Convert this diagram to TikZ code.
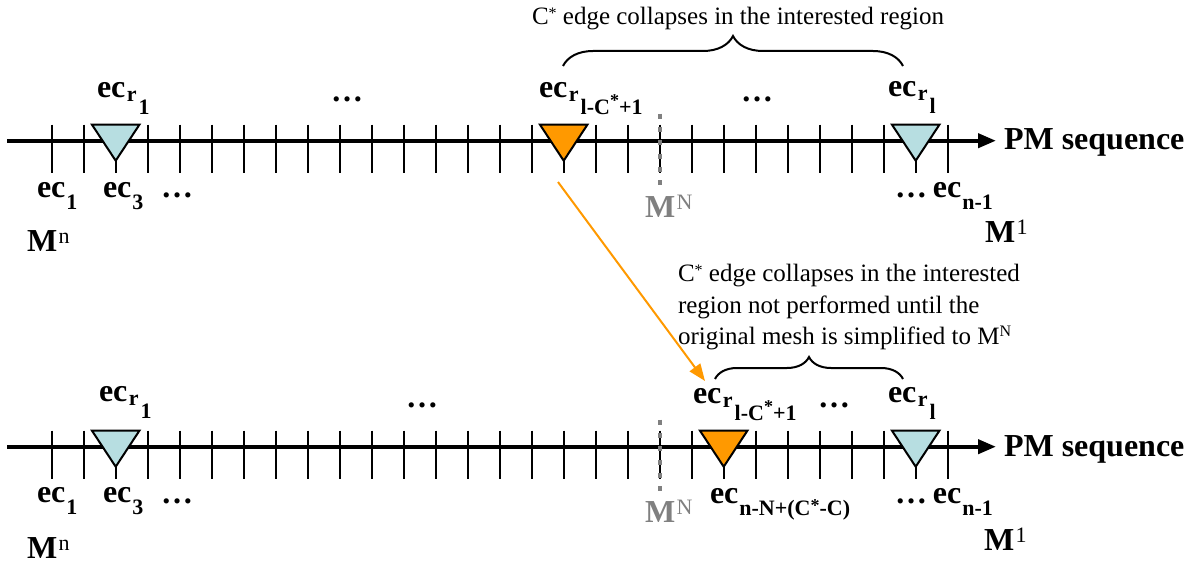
\documentclass[tikz,border=0pt]{standalone}
\usepackage{fontspec}
\setmainfont{Liberation Serif}
\usetikzlibrary{arrows.meta,decorations.pathreplacing}
\definecolor{triorange}{RGB}{255,153,0}
\definecolor{triblue}{RGB}{183,222,225}
\definecolor{mngray}{RGB}{128,128,128}
\newcommand\fbg{\fontsize{32bp}{32bp}\selectfont\bfseries}
\newcommand\fsb{\fontsize{22bp}{22bp}\selectfont\bfseries}
\newcommand\fss{\fontsize{18bp}{18bp}\selectfont\bfseries}
\newcommand\fsr{\fontsize{22bp}{22bp}\selectfont\mdseries}
\newcommand\fan{\fontsize{25bp}{25bp}\selectfont}
\newcommand\fas{\fontsize{16bp}{16bp}\selectfont}
\newcommand\ecrr[1]{{\fbg ec}\kern1.5bp\raisebox{-4bp}{\fsb r}\kern2bp\raisebox{-17bp}{\fsb #1}}
\newcommand\ecsub[1]{{\fbg ec}\kern1bp\raisebox{-12bp}{\fsb #1}}
\newcommand\Mup[1]{{\fbg M}\kern1.5bp\raisebox{8bp}{\fsr #1}}
\begin{document}
\begin{tikzpicture}[x=1bp,y=-1bp,
  every node/.style={inner sep=0pt,outer sep=0pt,anchor=base west},
  ticksty/.style={line width=2bp},
  mainline/.style={line width=4bp,-{Triangle[length=18bp,width=14bp]}},
  tristy/.style={line width=2bp,line join=miter},
  mnline/.style={mngray,line width=4bp,dash pattern=on 5bp off 8.3bp},
  bracesty/.style={decorate,decoration={brace,amplitude=#1},line width=2bp},
  orangearrow/.style={triorange,line width=2bp,-{Triangle[length=17bp,width=13bp]}}]
\useasboundingbox (0,0) rectangle (1196,567);
% axes and ticks
\foreach \yy in {140.7,446.7} {
  \draw[mainline] (7,\yy) -- (996,\yy);
  \foreach \i in {0,...,28}
    \draw[ticksty] ({51.7+32*\i},\yy-16) -- ({51.7+32*\i},\yy+32);
  \draw[mnline] (659.7,\yy-27) -- (659.7,\yy+44);
}
% triangles top
\draw[tristy,fill=triblue] (92,124.7) -- (139.4,124.7) -- (115.7,160.7) -- cycle;
\draw[tristy,fill=triorange] (540,124.7) -- (587.4,124.7) -- (563.7,160.7) -- cycle;
\draw[tristy,fill=triblue] (892,124.7) -- (939.4,124.7) -- (915.7,160.7) -- cycle;
% triangles bottom
\draw[tristy,fill=triblue] (92,430.7) -- (139.4,430.7) -- (115.7,466.7) -- cycle;
\draw[tristy,fill=triorange] (700,430.7) -- (747.4,430.7) -- (723.7,466.7) -- cycle;
\draw[tristy,fill=triblue] (892,430.7) -- (939.4,430.7) -- (915.7,466.7) -- cycle;
% braces
\draw[bracesty=30bp] (563,66) -- (903,66);
\draw[bracesty=22bp] (715,379) -- (903,379);
% top labels
\node (tr1) at (97,98) {\ecrr{1}};
\node (tdots1) at (331,102) {\fbg …};
\node (trl) at (539,98) {\ecrr{l-C\raisebox{8bp}{\fss *}+1}};
\node (tdots2) at (741,102) {\fbg …};
\node (trL) at (888,97) {\ecrr{l}};
\node (tec1) at (37,198) {\ecsub{1}};
\node (tec3) at (103,198) {\ecsub{3}};
\node (tdots3) at (161,198) {\fbg …};
\node (tMn) at (27,252) {\Mup{n}};
\node[text=mngray] (tMN) at (645,218) {\Mup{N}};
\node (tecn) at (895,198) {{\fbg …}\kern6bp\ecsub{n-1}};
\node (tM1) at (985,243) {\Mup{1}};
\node (tpm) at (1004,150) {\fbg PM sequence};
% annotations
\node (ann0) at (532,25) {\fan C\raisebox{6bp}{\fas *} edge collapses in the interested region};
\node (ann1) at (678,282) {\fan C\raisebox{6bp}{\fas *} edge collapses in the interested};
\node (ann2) at (678,313.5) {\fan region not performed until the};
\node (ann3) at (678,345) {\fan original mesh is simplified to M\raisebox{8bp}{\fas N}};
% bottom labels
\node (br1) at (99,401) {\ecrr{1}};
\node (bdots1) at (406,407) {\fbg …};
\node (brl) at (693,403) {\ecrr{l-C\raisebox{8bp}{\fss *}+1}};
\node (bdots2) at (818,407) {\fbg …};
\node (brL) at (888,402) {\ecrr{l}};
\node (bec1) at (37,502) {\ecsub{1}};
\node (bec3) at (103,502) {\ecsub{3}};
\node (bdots3) at (161,503) {\fbg …};
\node (bMn) at (27,558) {\Mup{n}};
\node[text=mngray] (bMN) at (645,522) {\Mup{N}};
\node (becN) at (710,503) {\ecsub{n-N+(C\raisebox{4bp}{\fss *}-C)}};
\node (becn) at (895,503) {{\fbg …}\kern6bp\ecsub{n-1}};
\node (bM1) at (984,550) {\Mup{1}};
\node (bpm) at (1004,456) {\fbg PM sequence};
% orange connector
\coordinate (arrS) at (558,182);
\coordinate (arrE) at (705,381);
\draw[orangearrow] (arrS) -- (arrE);
\end{tikzpicture}
\end{document}
